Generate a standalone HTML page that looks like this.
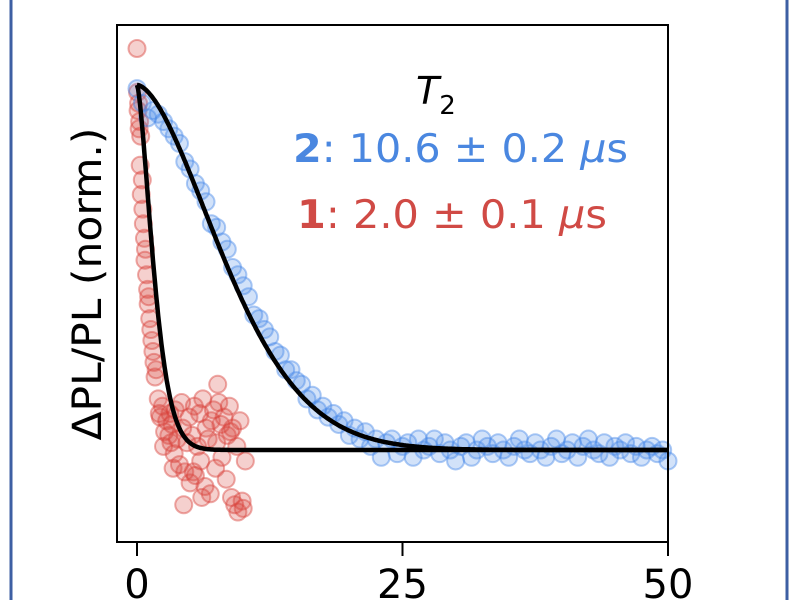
<!DOCTYPE html>
<html><head><meta charset="utf-8"><style>
body{margin:0;background:#fff;}
svg{display:block;font-family:"DejaVu Sans","Liberation Sans",sans-serif;}
</style></head><body>
<svg id="chart" width="800" height="600" viewBox="0 0 800 600">
<rect x="11" y="-20" width="776" height="640" rx="12" fill="none" stroke="#3d5fa3" stroke-width="3"/>
<g id="marks"></g>
<rect x="117" y="25" width="551" height="517" fill="none" stroke="#000" stroke-width="2"/>
<g id="axis"></g>
<text transform="translate(101,284) rotate(-90)" text-anchor="middle" font-size="40" textLength="313" lengthAdjust="spacingAndGlyphs">ΔPL/PL (norm.)</text>
<text x="416" y="104" font-size="38" font-style="italic">T<tspan font-size="26" dy="10" font-style="normal">2</tspan></text>
<text x="293" y="162" font-size="39" fill="#4a87e0" textLength="335" lengthAdjust="spacingAndGlyphs"><tspan font-weight="bold">2</tspan>: 10.6 ± 0.2 <tspan font-style="italic">μ</tspan>s</text>
<text x="297" y="228" font-size="39" fill="#d04a45" textLength="310" lengthAdjust="spacingAndGlyphs"><tspan font-weight="bold">1</tspan>: 2.0 ± 0.1 <tspan font-style="italic">μ</tspan>s</text>
</svg>
<script>
const xTicks=[0,25,50];
const blueT=[0,0.5,1,1.5,2,2.5,3,3.5,4,4.5,5,5.5,6,6.5,7,7.5,8,8.5,9,9.5,10,10.5,11,11.5,12,12.5,13,13.5,14,14.5,15,15.5,16,16.5,17,17.5,18,18.5,19,19.5,20,20.5,21,21.5,22,22.5,23,23.5,24,24.5,25,25.5,26,26.5,27,27.5,28,28.5,29,29.5,30,30.5,31,31.5,32,32.5,33,33.5,34,34.5,35,35.5,36,36.5,37,37.5,38,38.5,39,39.5,40,40.5,41,41.5,42,42.5,43,43.5,44,44.5,45,45.5,46,46.5,47,47.5,48,48.5,49,49.5,50];
const blueV=[0.99,0.95,0.91,0.93,0.92,0.90,0.88,0.86,0.84,0.79,0.77,0.73,0.71,0.68,0.62,0.61,0.57,0.55,0.50,0.48,0.45,0.42,0.37,0.36,0.33,0.31,0.27,0.26,0.22,0.22,0.19,0.18,0.14,0.15,0.11,0.12,0.09,0.10,0.07,0.08,0.04,0.06,0.03,0.05,0.01,0.03,-0.02,0.02,0.03,-0.01,0.01,0.02,-0.02,0.03,0.00,0.01,0.03,-0.01,0.02,0.00,-0.03,0.01,0.02,-0.02,0.00,0.03,0.01,-0.01,0.02,0.00,-0.02,0.01,0.03,0.00,-0.01,0.02,0.00,-0.02,0.01,0.03,-0.01,0.00,0.02,-0.02,0.01,0.03,0.00,-0.01,0.02,-0.02,0.01,0.00,0.02,-0.01,0.01,-0.02,0.00,0.01,-0.01,0.00,-0.03];
const redT=[0,0.05,0.1,0.15,0.2,0.25,0.3,0.35,0.4,0.5,0.55,0.6,0.7,0.75,0.8,0.9,1.0,1.05,1.1,1.2,1.3,1.4,1.5,1.6,1.7,1.8,2.0,2.2,2.4,2.6,2.8,3.0,3.1,3.2,3.3,3.5,3.6,3.8,4.0,4.2,4.3,4.5,4.7,4.9,5.0,5.2,5.4,5.5,5.7,5.9,6.0,6.2,6.4,6.5,6.7,6.9,7.0,7.2,7.4,7.5,7.7,7.9,8.0,8.2,8.4,8.5,8.7,8.9,9.0,9.2,9.4,9.5,9.7,9.9,10.0,10.2,6.1,5.3,4.4,7.6,8.8,2.1,2.5,3.4];
const redV=[1.10,0.98,0.93,0.95,0.88,0.90,0.78,0.86,0.70,0.74,0.66,0.62,0.58,0.52,0.55,0.48,0.44,0.40,0.42,0.36,0.33,0.30,0.27,0.24,0.20,0.22,0.14,0.09,0.12,0.05,0.08,0.04,0.10,0.02,0.07,-0.01,0.11,0.03,-0.04,0.13,0.06,-0.06,0.02,0.09,-0.09,0.04,0.12,-0.07,0.01,0.10,-0.03,0.14,-0.10,0.06,0.03,-0.12,0.08,0.11,-0.05,0.02,0.13,0.07,-0.02,0.09,-0.08,0.04,0.12,-0.13,0.06,-0.15,0.01,-0.17,0.08,-0.14,-0.16,-0.03,-0.13,-0.06,-0.15,0.18,0.05,0.10,0.01,-0.05];
const blueTau=10.6, redTau=2.0;
function xs(t){return 137+t*10.62;}
function ys(v){return 450-v*365;}
const NS="http://www.w3.org/2000/svg";
const marks=document.getElementById('marks');
function dot(t,v,c,n){const e=document.createElementNS(NS,'circle');
e.setAttribute('cx',xs(t));e.setAttribute('cy',ys(v));e.setAttribute('r',8.5);
e.setAttribute('fill',c);e.setAttribute('fill-opacity','0.25');e.setAttribute('stroke',c);e.setAttribute('stroke-opacity','0.45');e.setAttribute('stroke-width','2');


marks.appendChild(e);}
redT.forEach((t,i)=>dot(t,redV[i],'#d9433c','red-point'));
blueT.forEach((t,i)=>dot(t,blueV[i],'#4a8ae8','blue-point'));
function fit(tau,p,n){let d='';for(let t=0;t<=50.01;t+=0.1){const v=Math.exp(-Math.pow(t/tau,p));d+=(d?'L':'M')+xs(t).toFixed(1)+','+ys(v).toFixed(1);}
const e=document.createElementNS(NS,'path');e.setAttribute('d',d);e.setAttribute('fill','none');e.setAttribute('stroke','#000');e.setAttribute('stroke-width','4.5');


marks.appendChild(e);}
fit(redTau,1.5,'fit-line-1');
fit(blueTau,1.7,'fit-line-2');
const ax=document.getElementById('axis');
xTicks.forEach(t=>{const l=document.createElementNS(NS,'line');l.setAttribute('x1',xs(t));l.setAttribute('x2',xs(t));l.setAttribute('y1',542);l.setAttribute('y2',556);l.setAttribute('stroke','#000');l.setAttribute('stroke-width','2');


ax.appendChild(l);
const tx=document.createElementNS(NS,'text');tx.setAttribute('x',xs(t));tx.setAttribute('y',598);tx.setAttribute('text-anchor','middle');tx.setAttribute('font-size','40');tx.textContent=t;


ax.appendChild(tx);});
</script>
</body></html>
